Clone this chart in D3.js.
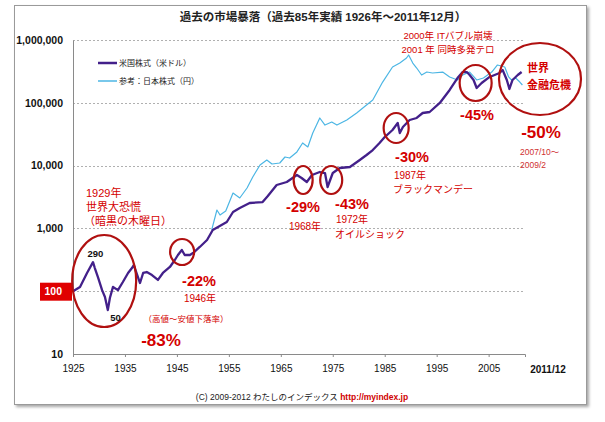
<!DOCTYPE html>
<html><head><meta charset="utf-8">
<script src="https://cdn.jsdelivr.net/npm/d3@7"></script>
<style>
html,body{margin:0;padding:0;background:#fff;}
svg{display:block;}
</style></head>
<body>
<svg id="chart" width="605" height="422"></svg>
<script>
// ---- data ----
const titleText = "過去の市場暴落（過去85年実績 1926年～2011年12月）";
const seriesNames = ["米国株式（米ドル）", "参考：日本株式（円）"];
const usYears = [1925.0,1926.35,1927.7,1928.85,1929.2,1929.8,1930.6,1931.15,1931.7,1932.1,1932.7,1933.65,1934.6,1935.6,1936.35,1936.7,1937.5,1937.9,1938.5,1939.2,1940.2,1941.35,1942.3,1943.65,1944.6,1945.2,1945.95,1946.5,1947.5,1948.1,1949.4,1950.8,1951.9,1954.6,1955.8,1957.1,1959.0,1961.5,1962.5,1964.2,1966.15,1968.1,1969.0,1970.0,1971.0,1972.5,1973.5,1974.0,1975.0,1976.35,1978.3,1980.2,1981.5,1982.7,1984.0,1985.0,1986.5,1987.5,1987.9,1988.5,1989.8,1991.15,1992.3,1993.65,1995.6,1997.5,1999.0,2000.0,2000.8,2001.35,2002.1,2002.7,2003.65,2005.2,2007.1,2007.7,2008.5,2009.0,2009.6,2010.6,2011.35];
const usValues = [100,117,195,290,234,168,104,81,50,78,117,104,140,195,234,261,168,135,195,202,181,151,195,243,314,377,453,377,377,405,506,653,944,1265,1824,2113,2537,2630,3280,4909,5483,7080,6350,5483,7080,7907,7620,4560,7620,9160,9500,12280,14750,17700,22900,28500,36900,47700,33000,41200,53200,57300,68800,71400,99400,160000,248000,309000,309000,277000,231000,172000,207000,258000,298000,333000,231000,166000,231000,277000,309000];
const jpYears = [1951.7,1952.7,1953.3,1954.4,1955.8,1957.1,1958.5,1959.6,1961.0,1962.3,1963.3,1964.8,1965.8,1966.7,1968.1,1969.2,1970.2,1971.15,1972.5,1973.5,1974.8,1975.8,1977.7,1979.6,1981.5,1982.7,1984.6,1986.5,1987.9,1989.2,1989.6,1990.4,1991.15,1992.1,1993.1,1994.2,1996.15,1997.5,1999.0,2000.0,2001.35,2002.7,2004.0,2005.6,2006.7,2008.1,2008.85,2009.4,2010.2,2011.0,2011.5];
const jpValues = [944,1963,1634,1892,3660,3050,4400,6580,10230,12280,10600,11000,13700,13200,16500,22900,19800,33000,57300,44200,49400,44200,53200,68800,92200,110900,214000,371000,430000,517000,577000,430000,358000,277000,309000,298000,309000,258000,231000,277000,309000,231000,248000,309000,400000,371000,258000,231000,248000,214000,192000];
const yTickValues = [10,100,1000,10000,100000,1000000];
const yTickLabels = ["10","100","1,000","10,000","100,000","1,000,000"];
const xTickValues = [1925,1935,1945,1955,1965,1975,1985,1995,2005];
const xEndLabel = "2011/12";
const footerText = "(C) 2009-2012 わたしのインデックス";
const footerUrl = "http://myindex.jp";

// ---- layout ----
const svg = d3.select("#chart");
const jp = "'Liberation Sans','Noto Sans CJK JP',sans-serif";
const lat = "'Liberation Sans',Arial,sans-serif";
const red = "#d40000", circ = "#b01010";
const x = d3.scaleLinear().domain([1925, 2012]).range([73, 525]);
const y = d3.scaleLog().domain([10, 1000000]).range([354, 40]);

// frame with shadow
const defs = svg.append("defs");
const f = defs.append("filter").attr("id","sh").attr("x","-5%").attr("y","-5%").attr("width","110%").attr("height","110%");
f.append("feDropShadow").attr("dx",2).attr("dy",2).attr("stdDeviation",1.5).attr("flood-color","#000").attr("flood-opacity",0.35);
svg.append("rect").attr("x",14.5).attr("y",5.5).attr("width",572).attr("height",399)
  .attr("fill","#fff").attr("stroke","#9a9a9a").attr("stroke-width",1).attr("filter","url(#sh)");

// title
svg.append("text").attr("x",323).attr("y",21).attr("text-anchor","middle")
  .attr("font-family",jp).attr("font-size",11.5).attr("font-weight","bold").attr("fill","#222").text(titleText);

// gridlines
svg.append("g").selectAll("line").data(yTickValues.slice(1)).join("line")
  .attr("x1",x(1925)).attr("x2",x(2012)).attr("y1",d=>Math.round(y(d))+0.5).attr("y2",d=>Math.round(y(d))+0.5)
  .attr("stroke","#b0b0b0").attr("stroke-width",1).attr("stroke-dasharray","2,2");

// axes
const yAxis = d3.axisLeft(y).tickValues(yTickValues).tickSize(0).tickPadding(10)
  .tickFormat((d,i)=>yTickLabels[i]);
const gy = svg.append("g").attr("transform",`translate(${x(1925)},0)`).call(yAxis);
gy.select(".domain").attr("stroke","#8a8a8a");
gy.selectAll("text").attr("font-family",lat).attr("font-size",10.5).attr("font-weight","bold").attr("fill","#111");
// red box for 100
const t100 = gy.selectAll(".tick").filter(d=>d===100);
t100.insert("rect","text").attr("x",-33).attr("y",-9).attr("width",32).attr("height",18).attr("fill","#e00000");
t100.select("text").attr("fill","#fff").attr("x",-11);

const xAxis = d3.axisBottom(x).tickValues(xTickValues).tickSize(3).tickPadding(8).tickFormat(d3.format("d"));
const gx = svg.append("g").attr("transform",`translate(0,${y(10)})`).call(xAxis);
gx.select(".domain").attr("stroke","#8a8a8a");
gx.selectAll(".tick line").attr("stroke","#8a8a8a");
gx.selectAll("text").attr("font-family",lat).attr("font-size",10).attr("fill","#111");
svg.append("text").attr("x",548).attr("y",y(10)+19).attr("text-anchor","middle")
  .attr("font-family",lat).attr("font-size",10).attr("font-weight","bold").attr("fill","#111").text(xEndLabel);

// lines
const line = d3.line().x(d=>x(d[0])).y(d=>y(d[1]));
const jpData = jpYears.map((yr,i)=>[yr,jpValues[i]]);
const usData = usYears.map((yr,i)=>[yr,usValues[i]]);
svg.append("path").datum(jpData).attr("d",line).attr("fill","none").attr("stroke","#4cb6e4").attr("stroke-width",1.2).attr("stroke-linejoin","round");
svg.append("path").datum(usData).attr("d",line).attr("fill","none").attr("stroke","#43208a").attr("stroke-width",2.3).attr("stroke-linejoin","round");

// legend
const lg = svg.append("g");
[["#43208a",2.5,63],["#4cb6e4",1.5,81]].forEach((s,i)=>{
  lg.append("line").attr("x1",98).attr("x2",117).attr("y1",s[2]).attr("y2",s[2]).attr("stroke",s[0]).attr("stroke-width",s[1]);
  lg.append("text").attr("x",119).attr("y",s[2]+3).attr("font-family",jp).attr("font-size",8).attr("fill","#222").text(seriesNames[i]);
});

// annotations
const ann = svg.append("g");
function ell(cx,cy,rx,ry){ann.append("ellipse").attr("cx",cx).attr("cy",cy).attr("rx",rx).attr("ry",ry).attr("fill","none").attr("stroke",circ).attr("stroke-width",2.2);}
function txt(tx,ty,s,size,opts={}){ann.append("text").attr("x",tx).attr("y",ty).attr("text-anchor",opts.anchor||"middle")
  .attr("font-family",opts.font||jp).attr("font-size",size).attr("font-weight",opts.bold?"bold":"normal")
  .attr("fill",opts.color||red).text(s);}

ell(x(1931),281,32,46);
txt(x(1929.3),257,"290",9.5,{font:lat,bold:true,color:"#111"});
txt(x(1933.2),321,"50",9.5,{font:lat,bold:true,color:"#111"});
txt(86,197,"1929年",11,{anchor:"start"});
txt(86,211,"世界大恐慌",11,{anchor:"start"});
txt(84,225,"（暗黒の木曜日）",11,{anchor:"start"});
txt(186,322,"（高値～安値下落率）",8.5);
txt(161,346,"-83%",17,{bold:true,font:lat});

ell(x(1946),252,12,13);
txt(199,286,"-22%",14.5,{bold:true,font:lat});
txt(200,302,"1946年",10);

ell(x(1969.3),180,9.5,14);
txt(303,212,"-29%",14.5,{bold:true,font:lat});
txt(305,230,"1968年",10);

ell(x(1974.7),180,11,14);
txt(352,209,"-43%",14.5,{bold:true,font:lat});
txt(352,223,"1972年",10);
txt(335,238,"オイルショック",10,{anchor:"start"});

ell(x(1987.2),128,12.5,15);
txt(412,162,"-30%",14.5,{bold:true,font:lat});
txt(410,179,"1987年",10);
txt(393,193,"ブラックマンデー",10,{anchor:"start"});

txt(448,39,"2000年 ITバブル崩壊",9.5);
txt(448,53,"2001 年 同時多発テロ",9.5);
ell(x(2002.5),83,16,18);
txt(477,120,"-45%",14.5,{bold:true,font:lat});

ell(540,79,41,36);
txt(527,72,"世界",11,{anchor:"start",bold:true});
txt(527,89,"金融危機",11,{anchor:"start",bold:true});
txt(541,138,"-50%",17,{bold:true,font:lat});
txt(520,155,"2007/10～",8.5,{anchor:"start",color:"#d03030"});
txt(520,168,"2009/2",8.5,{anchor:"start",color:"#d03030"});

// footer
const ft = svg.append("text").attr("x",302).attr("y",400).attr("text-anchor","middle").attr("font-family",jp).attr("font-size",8.5);
ft.append("tspan").attr("fill","#222").text(footerText+"  ");
ft.append("tspan").attr("fill","#d00000").attr("font-weight","bold").text(footerUrl);
</script>
</body></html>
